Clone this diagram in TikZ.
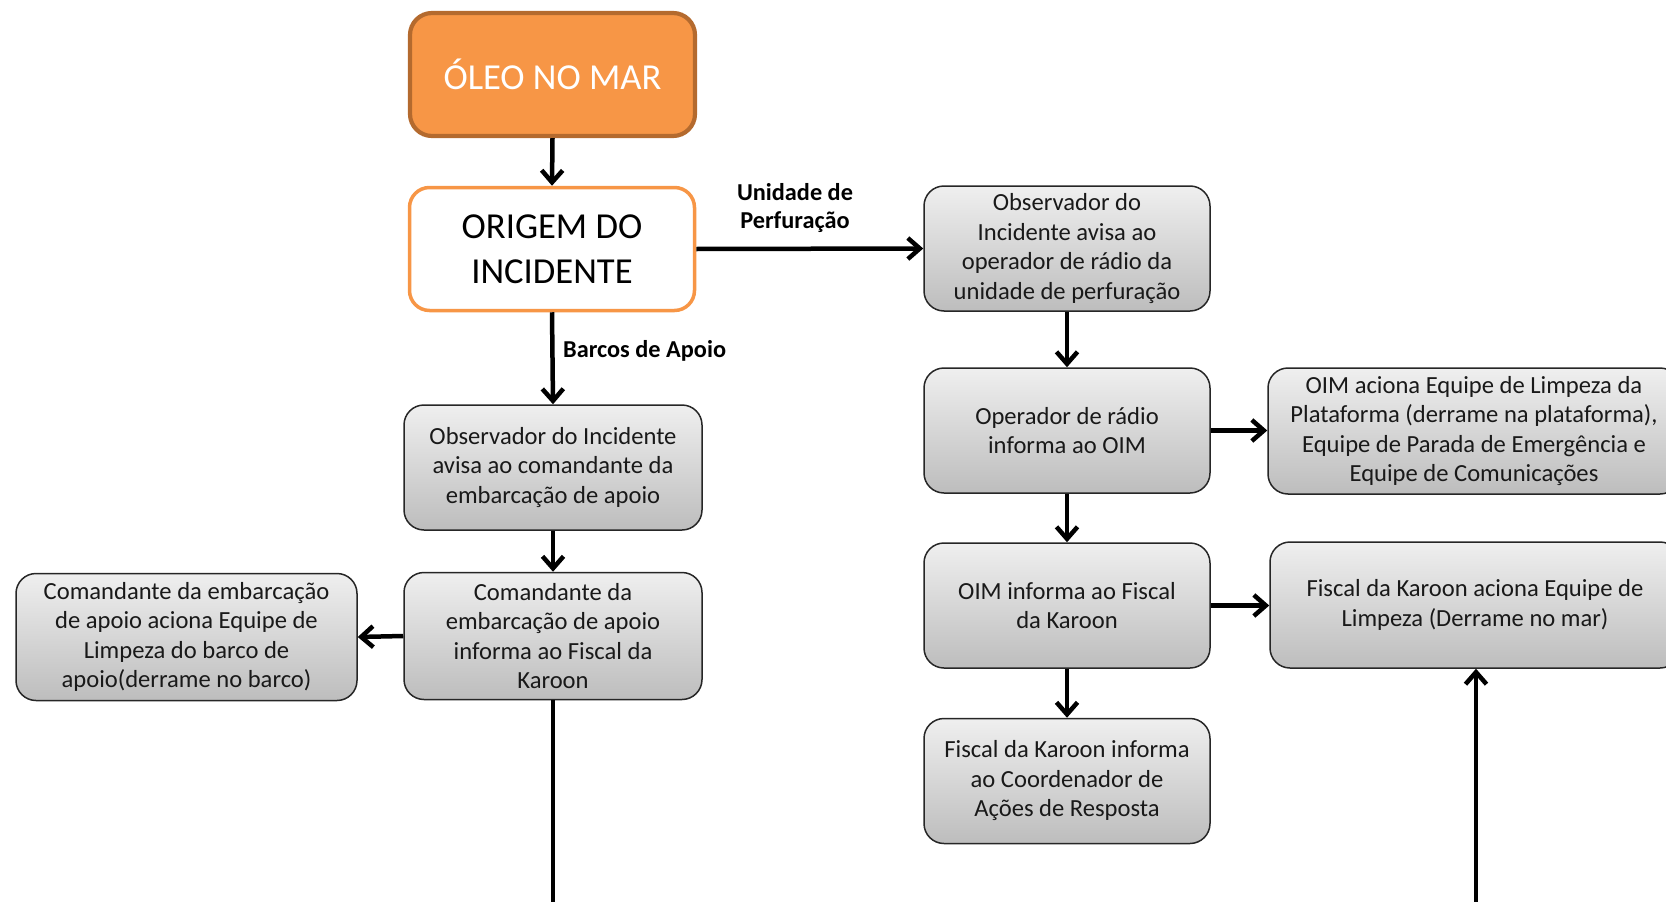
\documentclass[tikz,border=0pt]{standalone}
\usepackage{fontspec}
\setmainfont{Carlito}
\usetikzlibrary{arrows.meta}
\definecolor{orfill}{HTML}{F79646}
\definecolor{ordark}{HTML}{B46A2E}
\definecolor{gtop}{HTML}{EFEFEF}
\definecolor{gbot}{HTML}{BDBDBD}
\tikzset{
  graybox/.style={draw=black!85, line width=1.5pt, rounded corners=20pt,
    top color=gtop, bottom color=gbot, align=center, inner sep=0pt,
    font=\fontsize{24.6}{29.5}\selectfont, text=black!90},
  flow/.style={line width=4.5pt, -{Straight Barb[length=12pt,width=21pt]}},
  plainline/.style={line width=4.5pt},
  lbl/.style={font=\fontsize{24.3}{28}\selectfont\bfseries, align=center, inner sep=0pt}
}
\begin{document}
\begin{tikzpicture}[x=1pt,y=-1pt]
\useasboundingbox (0,0) rectangle (1666,902);
\clip (0,0) rectangle (1666,902);
% top
\node[draw=ordark, line width=4.2pt, fill=orfill, rounded corners=22pt,
  minimum width=285pt, minimum height=123pt, inner sep=0pt, text=white,
  font=\fontsize{36.6}{42}\selectfont] (oleo) at (552.5,74.5) {ÓLEO NO MAR};
\node[draw=orfill, line width=3.5pt, fill=white, rounded corners=20pt,
  minimum width=285pt, minimum height=123pt, inner sep=0pt, align=center,
  font=\fontsize{36.6}{45.5}\selectfont] (origem) at (552,249) {ORIGEM DO\\INCIDENTE};
% right column
\node[graybox, minimum width=286pt, minimum height=125pt] (r1) at (1067,248.5)
  {Observador do\\Incidente avisa ao\\operador de rádio da\\unidade de perfuração};
\node[graybox, minimum width=286pt, minimum height=125pt] (r2) at (1067,430.5)
  {Operador de rádio\\informa ao OIM};
\node[graybox, minimum width=286pt, minimum height=125pt] (r3) at (1067,605.5)
  {OIM informa ao Fiscal\\da Karoon};
\node[graybox, minimum width=286pt, minimum height=125pt] (r4) at (1067,781)
  {Fiscal da Karoon informa\\ao Coordenador de\\Ações de Resposta};
\node[graybox, minimum width=412pt, minimum height=126pt] (r2b) at (1474,431)
  {OIM aciona Equipe de Limpeza da\\Plataforma (derrame na plataforma),\\Equipe de Parada de Emergência e\\Equipe de Comunicações};
\node[graybox, minimum width=410pt, minimum height=126pt] (r3b) at (1475,605)
  {Fiscal da Karoon aciona Equipe de\\Limpeza (Derrame no mar)};
% left column
\node[graybox, minimum width=298pt, minimum height=125pt] (l1) at (553,467.5)
  {Observador do Incidente\\avisa ao comandante da\\embarcação de apoio};
\node[graybox, minimum width=298pt, minimum height=127pt] (l2) at (553,636)
  {Comandante da\\embarcação de apoio\\informa ao Fiscal da\\Karoon};
\node[graybox, minimum width=341pt, minimum height=127pt] (l1b) at (186.5,637)
  {Comandante da embarcação\\de apoio aciona Equipe de\\Limpeza do barco de\\apoio(derrame no barco)};
% labels
\node[lbl] (lup) at (795,208) {Unidade de\\Perfuração};
\node[lbl, anchor=west] (lba) at (563,351) {Barcos de Apoio};
% free ends
\coordinate (bl) at (553,910);
\coordinate (br) at (1476,910);
% connectors
\draw[flow] (oleo.south) -- (origem.north);
\draw[flow] (origem.east) -- (r1.west);
\draw[flow] (origem.south) -- (l1.north);
\draw[flow] (l1.south) -- (l2.north);
\draw[flow] (l2.west) -- (l1b.east);
\draw[plainline] (l2.south) -- (bl);
\draw[flow] (r1.south) -- (r2.north);
\draw[flow] (r2.south) -- (r3.north);
\draw[flow] (r3.south) -- (r4.north);
\draw[flow] (r2.east) -- (r2.east -| r2b.west);
\draw[flow] (r3.east) -- (r3.east -| r3b.west);
\draw[flow] (br) -- (br |- r3b.south);
\end{tikzpicture}
\end{document}
